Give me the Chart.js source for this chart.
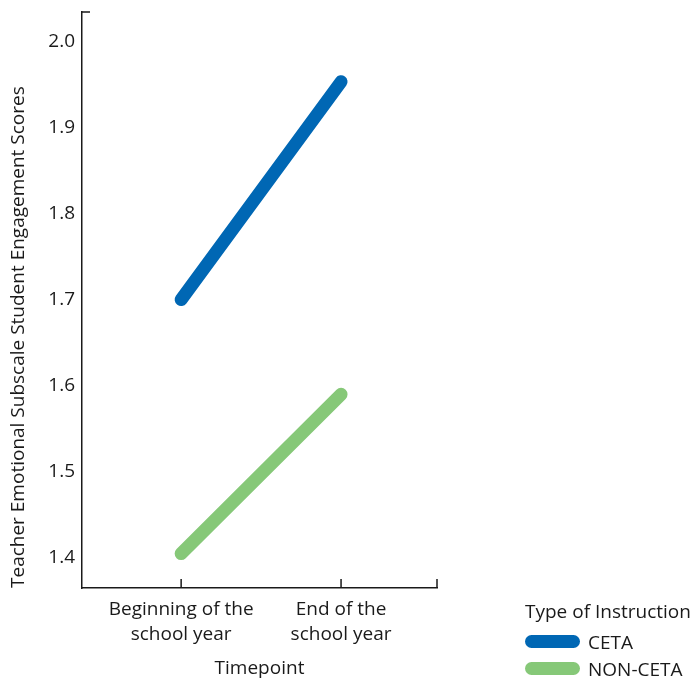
<!DOCTYPE html>
<html>
<head>
<meta charset="utf-8">
<script src="https://cdn.jsdelivr.net/npm/chart.js@4.4.1/dist/chart.umd.min.js"></script>
<style>
  html, body { margin: 0; padding: 0; background: #fff; }
  #wrap { position: relative; width: 694px; height: 678px; }
  #legend {
    position: absolute; left: 525px; top: 597px;
    font-family: "Open Sans", sans-serif; font-size: 19px; color: #1a1a1a;
  }
  #legend .title { height: 31px; line-height: 28px; }
  #legend .item { display: flex; align-items: center; height: 27px; }
  #legend .swatch { width: 55px; height: 13px; border-radius: 7px; margin-right: 8px; }
</style>
</head>
<body>
<div id="wrap">
  <canvas id="chart" width="694" height="678"></canvas>
  <div id="legend"></div>
</div>
<script>
const TIMEPOINTS = [["Beginning of the", "school year"], ["End of the", "school year"]];
const X_POS = [0, 1];
const CETA = [1.70, 1.953];
const NON_CETA = [1.405, 1.59];
const SERIES_NAMES = ["CETA", "NON-CETA"];
const SERIES_COLORS = ["#0067B4", "#86C878"];
const Y_TICKS = [1.4, 1.5, 1.6, 1.7, 1.8, 1.9, 2.0];

const FONT = "'Open Sans', sans-serif";
const INK = "#1a1a1a";
const FS = 19;

// frame marks: small tick at top of y axis, upward ticks on x axis
const axisMarks = {
  id: "axisMarks",
  afterDraw(chart) {
    const ctx = chart.ctx;
    const x = chart.scales.x, y = chart.scales.y;
    ctx.save();
    ctx.strokeStyle = INK;
    ctx.lineWidth = 1.5;
    ctx.beginPath();
    ctx.moveTo(x.left, y.top);
    ctx.lineTo(x.left + 8, y.top);
    x.ticks.forEach((t) => {
      const px = x.getPixelForValue(t.value);
      ctx.moveTo(px, y.bottom);
      ctx.lineTo(px, y.bottom - 9);
    });
    ctx.stroke();
    ctx.restore();
  },
};

const datasets = [CETA, NON_CETA].map((vals, i) => ({
  label: SERIES_NAMES[i],
  data: vals.map((v, j) => ({ x: X_POS[j], y: v })),
  borderColor: SERIES_COLORS[i],
  borderWidth: 13,
  borderCapStyle: "round",
  pointRadius: 0,
  fill: false,
}));

new Chart(document.getElementById("chart"), {
  type: "line",
  data: { datasets },
  options: {
    responsive: false,
    animation: false,
    layout: { padding: { top: 12, right: 257, left: 0, bottom: 0 } },
    plugins: { legend: { display: false }, tooltip: { enabled: false } },
    scales: {
      x: {
        type: "linear",
        min: -0.62,
        max: 1.6,
        afterBuildTicks: (s) => { s.ticks = [0, 1, 1.6].map((v) => ({ value: v })); },
        afterFit: (s) => { s.height = 90; s.paddingLeft = 0; s.paddingRight = 0; },
        ticks: {
          padding: 9,
          font: { family: FONT, size: FS, lineHeight: 1.33 },
          color: INK,
          maxRotation: 0,
          callback: (v) => {
            const i = X_POS.indexOf(v);
            return i >= 0 ? TIMEPOINTS[i] : "";
          },
        },
        grid: { display: false, drawTicks: false },
        border: { display: true, color: INK, width: 1.5 },
        title: {
          display: true, text: "Timepoint", color: INK,
          font: { family: FONT, size: FS }, padding: { top: 0, bottom: -2 },
        },
      },
      y: {
        min: 1.365,
        max: 2.034,
        afterBuildTicks: (s) => { s.ticks = Y_TICKS.map((v) => ({ value: v })); },
        afterFit: (s) => { s.width = 82; s.paddingTop = 0; s.paddingBottom = 0; },
        ticks: {
          padding: 7,
          font: { family: FONT, size: FS },
          color: INK,
          callback: (v) => v.toFixed(1),
        },
        grid: { display: false, drawTicks: false },
        border: { display: true, color: INK, width: 1.5 },
        title: {
          display: true, text: "Teacher Emotional Subscale Student Engagement Scores",
          align: "start",
          color: INK, font: { family: FONT, size: FS }, padding: { top: 7, bottom: 0 },
        },
      },
    },
  },
  plugins: [axisMarks],
});

// legend built from the same series arrays
const legend = document.getElementById("legend");
let html = `<div class="title">Type of Instruction</div>`;
SERIES_NAMES.forEach((name, i) => {
  html += `<div class="item"><span class="swatch" style="background:${SERIES_COLORS[i]}"></span>${name}</div>`;
});
legend.innerHTML = html;
</script>
</body>
</html>
